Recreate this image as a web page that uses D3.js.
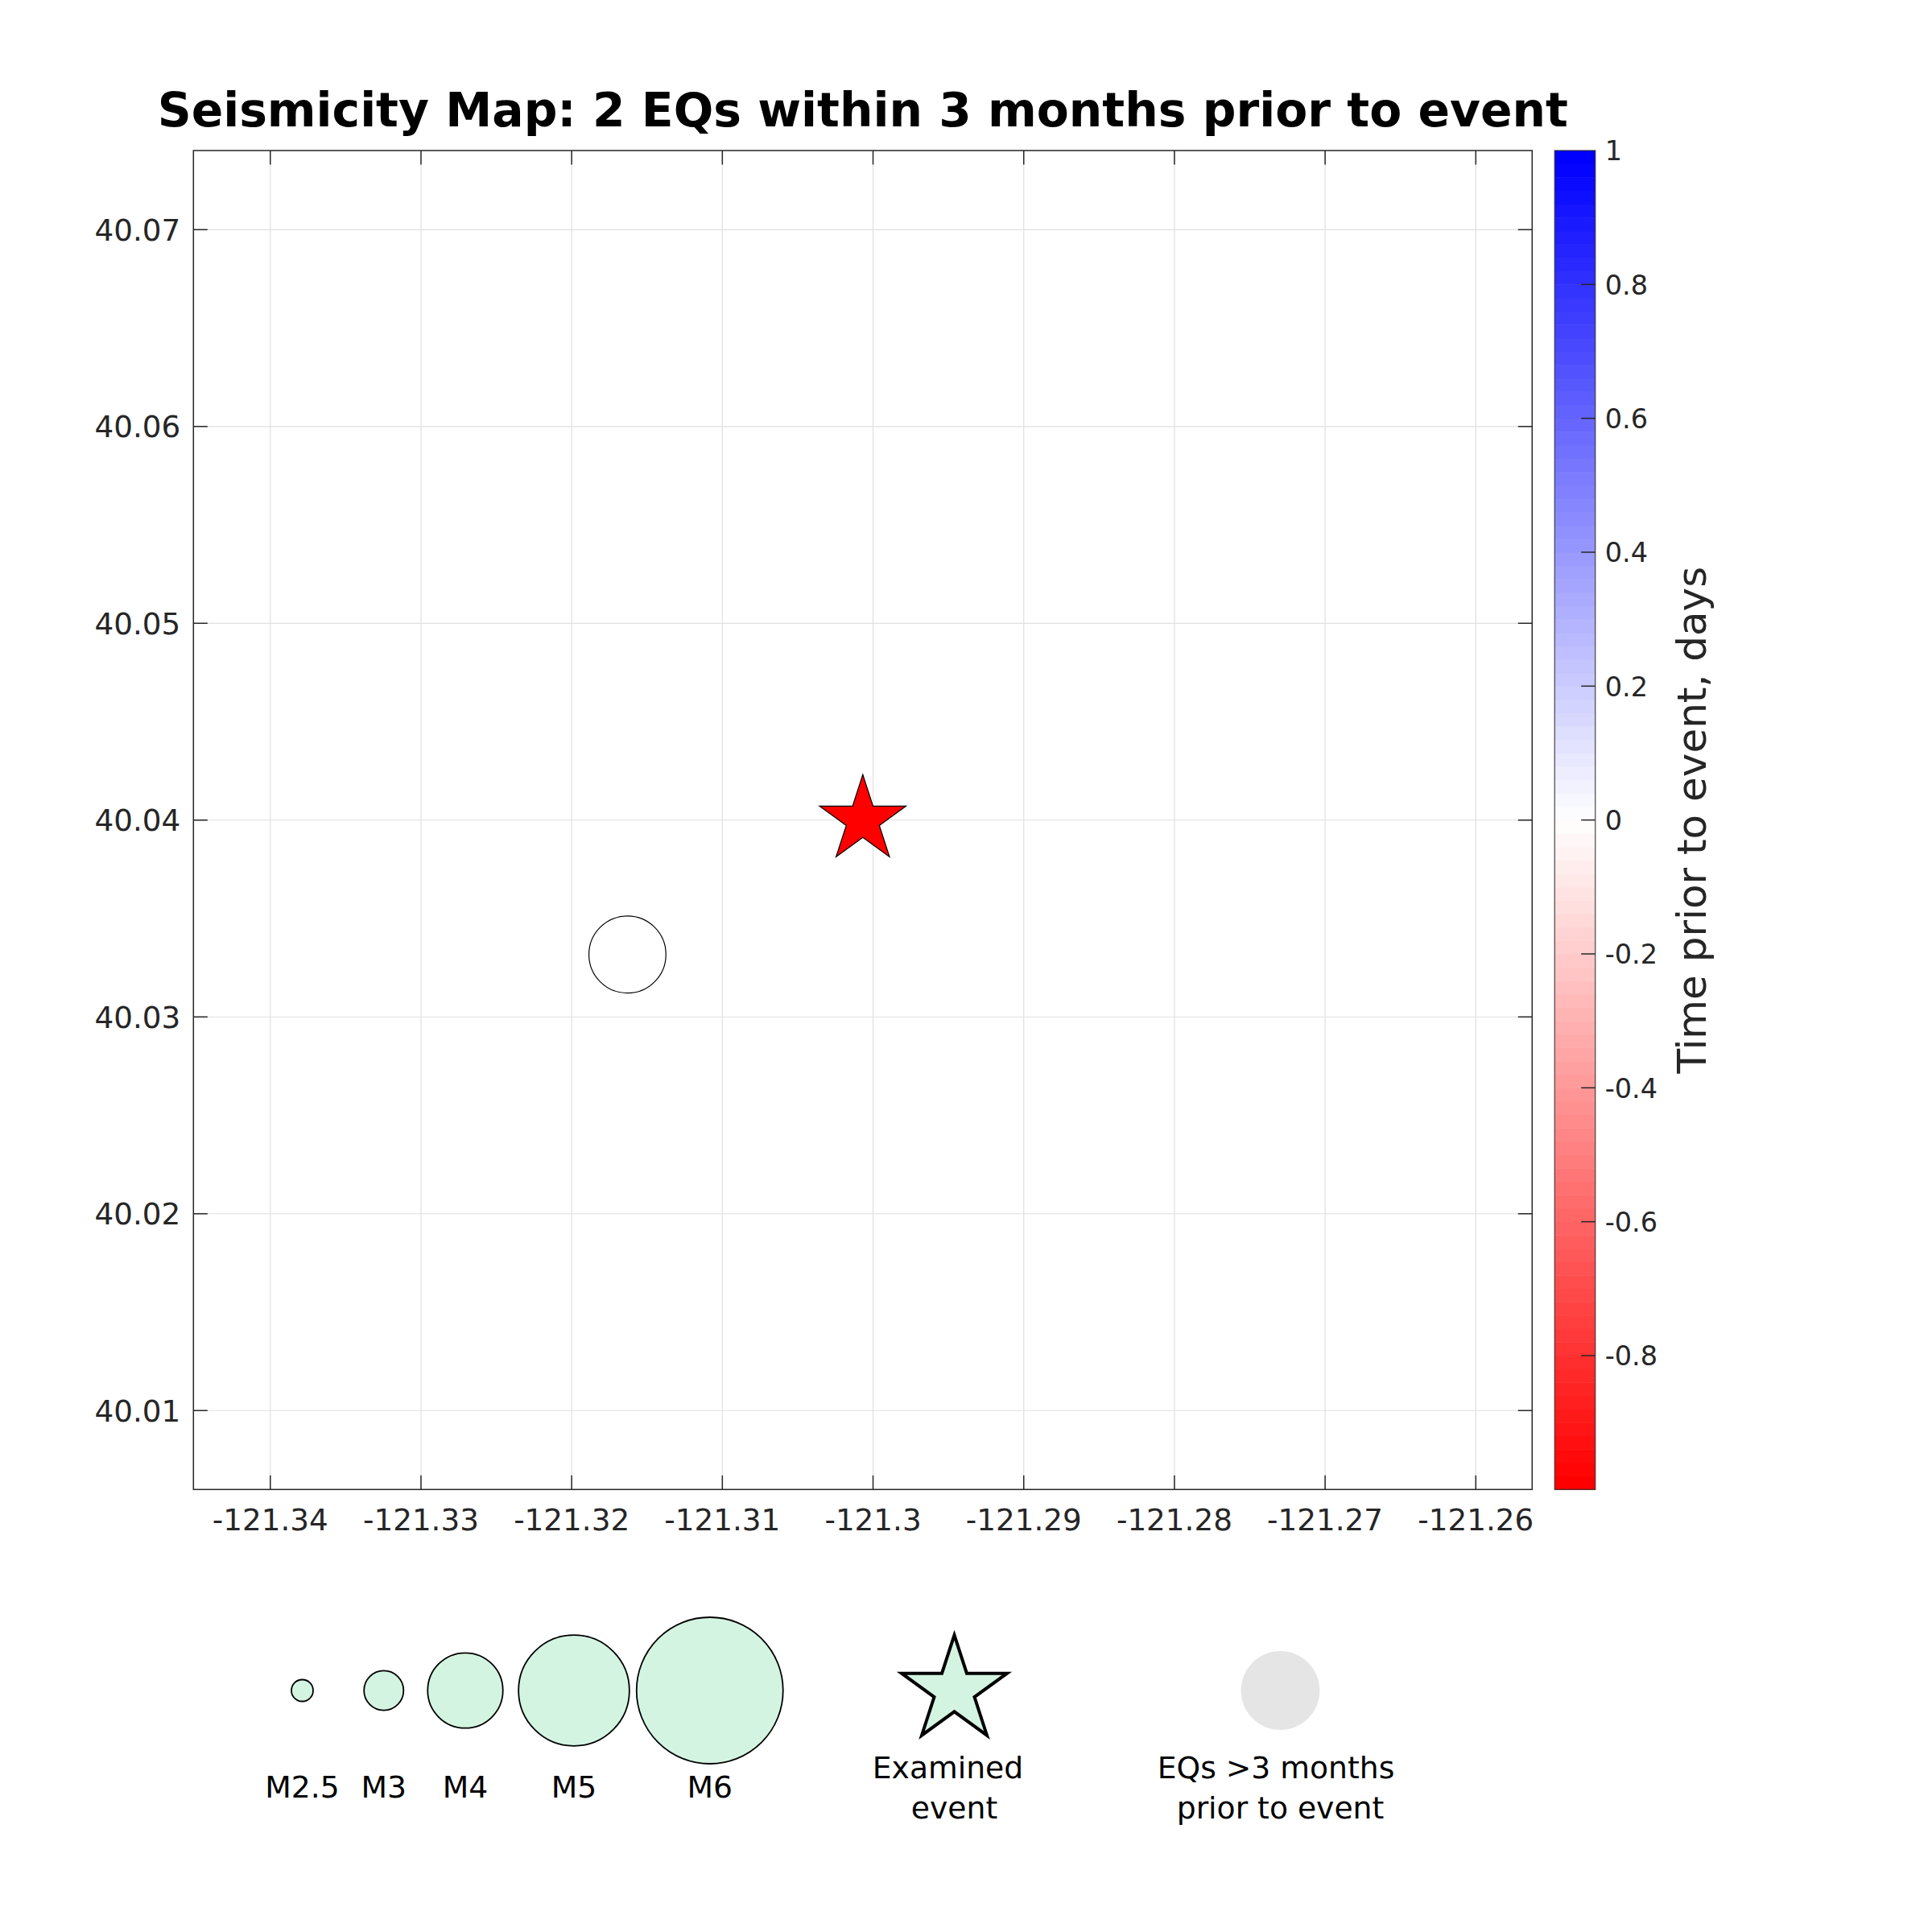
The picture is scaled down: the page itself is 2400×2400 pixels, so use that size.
<!DOCTYPE html>
<html>
<head>
<meta charset="utf-8">
<script src="https://d3js.org/d3.v7.min.js"></script>
<style>
  html, body { margin: 0; padding: 0; background: #fff; }
  text { font-family: "DejaVu Sans", sans-serif; }
</style>
</head>
<body>
<svg id="chart" width="2400" height="2400"></svg>
<script>
// map limits and ticks
const lonLimits = [-121.3451, -121.25626];
const latLimits = [40.00599, 40.07402];
const lonTicks = [-121.34, -121.33, -121.32, -121.31, -121.3, -121.29, -121.28, -121.27, -121.26];
const latTicks = [40.01, 40.02, 40.03, 40.04, 40.05, 40.06, 40.07];
const cbarTicks = [-0.8, -0.6, -0.4, -0.2, 0, 0.2, 0.4, 0.6, 0.8, 1];

// events
const quakeLons = [-121.3163];
const quakeLats = [40.03317];
const quakeMags = [4.05];
const quakeDays = [0];
const eventLon = -121.30068;
const eventLat = 40.04;

// legend
const legendMags = [2.5, 3, 4, 5, 6];
const legendNames = ['M2.5', 'M3', 'M4', 'M5', 'M6'];
const legendSlots = [1, 4, 7, 11, 16];

const TICK = 17.5;
const plot = { left: 240.3, right: 1903.3, top: 187, bottom: 1850.3 };
const bar = { left: 1931.3, right: 1981.7 };

const svg = d3.select('#chart');
const x = d3.scaleLinear().domain(lonLimits).range([plot.left, plot.right]);
const y = d3.scaleLinear().domain(latLimits).range([plot.bottom, plot.top]);
const cbarY = d3.scaleLinear().domain([-1, 1]).range([plot.bottom, plot.top]);
const rad = d3.scaleLinear().domain([2.5, 6]).range([13.5, 91]);
const slotX = d3.scaleLinear().domain([1, 37]).range([375.5, 1590.5]);
const timeColor = d3.scaleLinear().domain([-1, 0, 1]).range(['#ff0000', '#ffffff', '#0000ff']);

const starPath = r => d3.symbol(d3.symbolStar, r * r / 0.8908130915)();

// grid
svg.append('g').selectAll('line').data(lonTicks).join('line')
  .attr('x1', d => x(d)).attr('x2', d => x(d))
  .attr('y1', plot.top).attr('y2', plot.bottom)
  .attr('stroke', '#e0e0e0').attr('stroke-width', 1.2);
svg.append('g').selectAll('line').data(latTicks).join('line')
  .attr('y1', d => y(d)).attr('y2', d => y(d))
  .attr('x1', plot.left).attr('x2', plot.right)
  .attr('stroke', '#e0e0e0').attr('stroke-width', 1.2);

// axes
function styleAxis(g) {
  g.selectAll('path.domain').remove();
  g.selectAll('line').attr('stroke', '#262626').attr('stroke-width', 1.5);
  g.selectAll('text').attr('fill', '#262626').attr('font-size', 37.3).attr('font-family', '"DejaVu Sans"');
}

svg.append('g').attr('transform', `translate(0,${plot.bottom})`)
  .call(d3.axisBottom(x).offset(0).tickValues(lonTicks).tickFormat(String).tickSizeInner(-TICK).tickSizeOuter(0).tickPadding(24.5))
  .call(styleAxis);
svg.append('g').attr('transform', `translate(0,${plot.top})`)
  .call(d3.axisTop(x).offset(0).tickValues(lonTicks).tickFormat('').tickSizeInner(-TICK).tickSizeOuter(0))
  .call(styleAxis);
svg.append('g').attr('transform', `translate(${plot.left},0)`)
  .call(d3.axisLeft(y).offset(0).tickValues(latTicks).tickFormat(String).tickSizeInner(-TICK).tickSizeOuter(0).tickPadding(16))
  .call(styleAxis)
  .call(g => g.selectAll('text').attr('dy', '0.365em'));
svg.append('g').attr('transform', `translate(${plot.right},0)`)
  .call(d3.axisRight(y).offset(0).tickValues(latTicks).tickFormat('').tickSizeInner(-TICK).tickSizeOuter(0))
  .call(styleAxis);

svg.append('rect')
  .attr('x', plot.left).attr('y', plot.top)
  .attr('width', plot.right - plot.left).attr('height', plot.bottom - plot.top)
  .attr('fill', 'none').attr('stroke', '#262626').attr('stroke-width', 1.5);

// events
svg.append('g').selectAll('circle').data(quakeLons).join('circle')
  .attr('cx', d => x(d))
  .attr('cy', (d, i) => y(quakeLats[i]))
  .attr('r', (d, i) => rad(quakeMags[i]))
  .attr('fill', (d, i) => timeColor(quakeDays[i]))
  .attr('stroke', '#000').attr('stroke-width', 1.2);

svg.append('path')
  .attr('d', starPath(56.5))
  .attr('transform', `translate(${x(eventLon)},${y(eventLat)})`)
  .attr('fill', '#ff0000').attr('stroke', '#000').attr('stroke-width', 1.2);

// colorbar, 100 steps of the map
const steps = d3.range(100);
const stepY = d3.scaleBand().domain(steps).range([plot.bottom, plot.top]);
svg.append('g').selectAll('rect').data(steps).join('rect')
  .attr('x', bar.left)
  .attr('y', d => stepY(d))
  .attr('width', bar.right - bar.left)
  .attr('height', stepY.bandwidth() + 0.5)
  .attr('fill', d => timeColor(-1 + 2 * d / 99));

svg.append('rect')
  .attr('x', bar.left).attr('y', plot.top)
  .attr('width', bar.right - bar.left).attr('height', plot.bottom - plot.top)
  .attr('fill', 'none').attr('stroke', '#262626').attr('stroke-opacity', 0.7).attr('stroke-width', 1.5);

svg.append('g').attr('transform', `translate(${bar.right},0)`)
  .call(d3.axisRight(cbarY).offset(0).tickValues(cbarTicks).tickFormat(String).tickSizeInner(-TICK).tickSizeOuter(0).tickPadding(12))
  .call(styleAxis)
  .call(g => g.selectAll('text').attr('font-size', 33.5).attr('dy', '0.365em'))
  .call(g => g.selectAll('.tick').filter(d => d === 1).select('line').remove());

svg.append('text')
  .attr('transform', `translate(2119,${cbarY(0)}) rotate(-90)`)
  .attr('text-anchor', 'middle')
  .attr('font-size', 50).attr('fill', '#262626')
  .text('Time prior to event, days');

// title
svg.append('text')
  .attr('x', (plot.left + plot.right) / 2).attr('y', 156.5)
  .attr('text-anchor', 'middle')
  .attr('font-size', 58.3).attr('font-weight', 'bold').attr('fill', '#000')
  .text('Seismicity Map: 2 EQs within 3 months prior to event');

// legend
const legendY = 2100;
svg.append('g').selectAll('circle').data(legendMags).join('circle')
  .attr('cx', (d, i) => slotX(legendSlots[i]))
  .attr('cy', legendY)
  .attr('r', d => rad(d))
  .attr('fill', '#d4f4e2').attr('stroke', '#000').attr('stroke-width', 1.8);

svg.append('g').selectAll('text').data(legendNames).join('text')
  .attr('x', (d, i) => slotX(legendSlots[i]))
  .attr('y', 2233)
  .attr('text-anchor', 'middle').attr('font-size', 37.7).attr('fill', '#000')
  .text(d => d);

svg.append('path')
  .attr('d', starPath(rad(5)))
  .attr('transform', `translate(${slotX(25)},${legendY})`)
  .attr('fill', '#d4f4e2').attr('stroke', '#000').attr('stroke-width', 4);

svg.append('circle')
  .attr('cx', slotX(37)).attr('cy', legendY).attr('r', rad(4.1))
  .attr('fill', '#e5e5e5');

function note(text, slot, baseline, shift) {
  svg.append('text')
    .attr('x', slotX(slot) + shift).attr('y', baseline)
    .attr('text-anchor', 'middle').attr('font-size', 37.7).attr('fill', '#000')
    .text(text);
}
note('Examined', 25, 2208.5, -8);
note('event', 25, 2258.5, 0);
note('EQs >3 months', 37, 2208.5, -5.5);
note('prior to event', 37, 2258.5, 0);
</script>
</body>
</html>
